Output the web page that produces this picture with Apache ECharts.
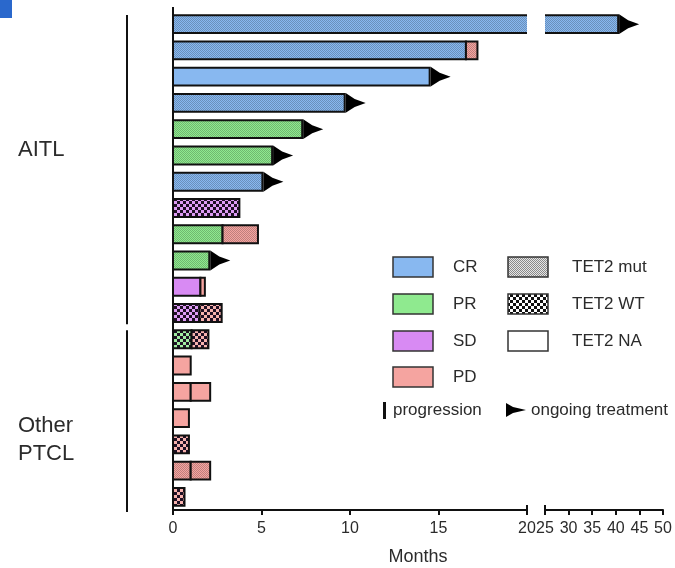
<!DOCTYPE html>
<html>
<head>
<meta charset="utf-8">
<script src="https://cdn.jsdelivr.net/npm/echarts@6/dist/echarts.min.js"></script>
<style>
  html, body { margin: 0; padding: 0; background: #fff; }
  #chart { width: 675px; height: 568px; }
</style>
</head>
<body>
<div id="chart"></div>
<script>
// One row per patient, top to bottom (swimmer plot)
const patients = ['1','2','3','4','5','6','7','8','9','10','11','12','13','14','15','16','17','18','19'];
// First response and the month it lasted until
const firstResponse = ['CR','CR','CR','CR','PR','PR','CR','SD','PR','PR','SD','SD','PR','PD','PD','PD','PD','PD','PD'];
const firstEnd      = [40.5, 16.55, 14.5, 9.7, 7.3, 5.6, 5.05, 3.75, 2.8, 2.05, 1.55, 1.5, 1.05, 1.0, 1.0, 0.9, 0.9, 1.0, 0.65];
// Later response (after progression) and its end month
const laterResponse = [null,'PD',null,null,null,null,null,null,'PD',null,'PD','PD','PD',null,'PD',null,null,'PD',null];
const laterEnd      = [null, 17.2, null, null, null, null, null, null, 4.8, null, 1.8, 2.75, 2.0, null, 2.1, null, null, 2.1, null];
// TET2 mutation status per patient
const tet2Status = ['mut','mut','NA','mut','mut','mut','mut','WT','mut','mut','NA','WT','WT','NA','NA','NA','WT','mut','WT'];
// Treatment still ongoing (arrow at the end of the bar)
const ongoing = [true,false,true,true,true,true,true,false,false,true,false,false,false,false,false,false,false,false,false];
// Disease groups: [label, first row, last row]
const groups = [['AITL', 0, 11], ['Other PTCL', 12, 18]];
// Axis ticks on both sides of the break
const leftTicks = [0, 5, 10, 15, 20];
const rightTicks = [25, 30, 35, 40, 45, 50];

const responseColor = { CR: '#88b8f0', PR: '#8fea8f', SD: '#d88af3', PD: '#f5a4a0' };
const TEXT = '#2b2b2b';
const FONT = '"Liberation Sans", Arial, sans-serif';

function mix(hex, other, t) {
  const a = parseInt(hex.slice(1), 16), b = parseInt(other.slice(1), 16);
  const ch = s => [(s >> 16) & 255, (s >> 8) & 255, s & 255];
  const A = ch(a), B = ch(b);
  return 'rgb(' + A.map((v, k) => Math.round(v + (B[k] - v) * t)).join(',') + ')';
}

function checker(c1, c2, cell) {
  const cv = document.createElement('canvas');
  cv.width = cv.height = cell * 2;
  const ctx = cv.getContext('2d');
  ctx.fillStyle = c1; ctx.fillRect(0, 0, cell * 2, cell * 2);
  ctx.fillStyle = c2; ctx.fillRect(0, 0, cell, cell); ctx.fillRect(cell, cell, cell, cell);
  return { type: 'pattern', image: cv, repeat: 'repeat' };
}

const patternCache = {};
function fillFor(color, status) {
  const key = color + status;
  if (!patternCache[key]) {
    if (status === 'mut') patternCache[key] = checker(color, mix(color, '#000000', 0.22), 1);
    else if (status === 'WT') patternCache[key] = checker(mix(color, '#ffffff', 0.15), '#1e1024', 3);
    else patternCache[key] = color;
  }
  return patternCache[key];
}

function arrowShape(xe, yc, h) {
  return [[xe, yc - h / 2 - 1], [xe + 9, yc - 4], [xe + 20, yc], [xe + 9, yc + 4], [xe, yc + h / 2 + 1]];
}

// Draws one patient row inside one side of the broken axis
function makeRowRenderer(lo, hi) {
  return function (params, api) {
    const i = params.dataIndex;
    const band = api.size([0, 1])[1];
    const h = band * 0.68;
    const yc = api.coord([lo, i])[1];
    const y0 = yc - h / 2;
    const children = [];
    const segs = [[0, firstEnd[i], firstResponse[i]]];
    if (laterResponse[i]) segs.push([firstEnd[i], laterEnd[i], laterResponse[i]]);
    segs.forEach(([a, b, r]) => {
      if (b <= lo || a >= hi) return;
      const x1 = api.coord([Math.max(a, lo), i])[0];
      const x2 = api.coord([Math.min(b, hi), i])[0];
      const cutL = a < lo, cutR = b > hi;
      const fill = fillFor(responseColor[r], tet2Status[i]);
      if (!cutL && !cutR) {
        children.push({ type: 'rect', shape: { x: x1, y: y0, width: x2 - x1, height: h },
          style: { fill: fill, stroke: '#111', lineWidth: 2 } });
      } else {
        children.push({ type: 'rect', shape: { x: x1, y: y0, width: x2 - x1, height: h }, style: { fill: fill } });
        const pts = cutR
          ? [[x2, y0], [x1, y0], [x1, y0 + h], [x2, y0 + h]]
          : [[x1, y0], [x2, y0], [x2, y0 + h], [x1, y0 + h]];
        children.push({ type: 'polyline', shape: { points: pts }, style: { stroke: '#111', lineWidth: 2, fill: null } });
      }
    });
    const end = laterEnd[i] != null ? laterEnd[i] : firstEnd[i];
    if (ongoing[i] && end > lo && end <= hi) {
      const xe = api.coord([end, i])[0] + 1;
      children.push({ type: 'polygon', shape: { points: arrowShape(xe, yc, h) }, style: { fill: '#000' } });
    }
    return { type: 'group', children: children };
  };
}

// Group brackets left of the plot and break caps on the axis
function renderFrame(params, api) {
  const cs = params.coordSys;
  const band = api.size([0, 1])[1];
  const children = [];
  const bx = cs.x - 46;
  groups.forEach(([name, r0, r1], g) => {
    const ya = api.coord([0, r0])[1] - band / 2 + 4;
    const yb = api.coord([0, r1])[1] + band / 2 + (g === 0 ? -2 : 2);
    children.push({ type: 'line', shape: { x1: bx, y1: ya, x2: bx, y2: yb }, style: { stroke: '#111', lineWidth: 2 } });
  });
  const ay = cs.y + cs.height;
  const xr = cs.x + cs.width;
  children.push({ type: 'line', shape: { x1: xr, y1: ay - 5, x2: xr, y2: ay + 5 }, style: { stroke: '#111', lineWidth: 2 } });
  children.push({ type: 'line', shape: { x1: 545, y1: ay - 5, x2: 545, y2: ay + 5 }, style: { stroke: '#111', lineWidth: 2 } });
  // y axis line runs a little above the first row
  children.push({ type: 'line', shape: { x1: cs.x, y1: cs.y - 4, x2: cs.x, y2: cs.y + 1 }, style: { stroke: '#111', lineWidth: 2 } });
  return { type: 'group', children: children };
}

const rowData = patients.map((p, i) => [firstEnd[i], i]);

const axisCommon = {
  type: 'value',
  interval: 5,
  splitLine: { show: false },
  axisLine: { show: true, lineStyle: { color: '#111', width: 2 } },
  axisTick: { show: true, length: 5, lineStyle: { color: '#111', width: 2 } },
  axisLabel: { color: TEXT, fontSize: 16, fontFamily: FONT, margin: 11 }
};

const legendRows = [
  { c: responseColor.CR, t: 'CR', y: 267 },
  { c: responseColor.PR, t: 'PR', y: 304 },
  { c: responseColor.SD, t: 'SD', y: 341 },
  { c: responseColor.PD, t: 'PD', y: 377 }
];
const legendTet = [
  { t: 'TET2 mut', fill: checker('#e6e6e6', '#8a8a8a', 1), y: 267 },
  { t: 'TET2 WT', fill: checker('#ffffff', '#111111', 3), y: 304 },
  { t: 'TET2 NA', fill: '#ffffff', y: 341 }
];

const graphics = [
  { type: 'rect', shape: { x: 0, y: 0, width: 12, height: 18 }, style: { fill: '#2a68cc' } },
  { type: 'text', left: 18, top: 139, style: { text: 'AITL', fill: TEXT, font: '22px ' + FONT } },
  { type: 'text', left: 18, top: 412, style: { text: 'Other\nPTCL', fill: TEXT, font: '22px ' + FONT, lineHeight: 28 } },
  { type: 'text', x: 418, y: 557, style: { text: 'Months', fill: TEXT, font: '18px ' + FONT, align: 'center', verticalAlign: 'middle' } }
];
legendRows.forEach(r => {
  graphics.push({ type: 'rect', shape: { x: 393, y: r.y - 10, width: 40, height: 20 }, style: { fill: r.c, stroke: '#333', lineWidth: 1.5 } });
  graphics.push({ type: 'text', x: 453, y: r.y, style: { text: r.t, fill: TEXT, font: '17px ' + FONT, verticalAlign: 'middle' } });
});
legendTet.forEach(r => {
  graphics.push({ type: 'rect', shape: { x: 508, y: r.y - 10, width: 40, height: 20 }, style: { fill: r.fill, stroke: '#333', lineWidth: 1.5 } });
  graphics.push({ type: 'text', x: 572, y: r.y, style: { text: r.t, fill: TEXT, font: '17px ' + FONT, verticalAlign: 'middle' } });
});
graphics.push({ type: 'rect', shape: { x: 383, y: 402, width: 3, height: 17 }, style: { fill: '#111' } });
graphics.push({ type: 'text', x: 393, y: 410, style: { text: 'progression', fill: TEXT, font: '17px ' + FONT, verticalAlign: 'middle' } });
graphics.push({ type: 'polygon', shape: { points: [[506, 403], [513, 407], [526, 410], [513, 413], [506, 417]] }, style: { fill: '#000' } });
graphics.push({ type: 'text', x: 531, y: 410, style: { text: 'ongoing treatment', fill: TEXT, font: '17px ' + FONT, verticalAlign: 'middle' } });

const chart = echarts.init(document.getElementById('chart'), null, { renderer: 'canvas' });
chart.setOption({
  animation: false,
  backgroundColor: '#fff',
  grid: [
    { left: 173, top: 11, width: 354, height: 499 },
    { left: 545, top: 11, width: 118, height: 499 }
  ],
  xAxis: [
    Object.assign({}, axisCommon, { gridIndex: 0, min: leftTicks[0], max: leftTicks[leftTicks.length - 1] }),
    Object.assign({}, axisCommon, { gridIndex: 1, min: rightTicks[0], max: rightTicks[rightTicks.length - 1] })
  ],
  yAxis: [
    { type: 'category', gridIndex: 0, data: patients, inverse: true,
      axisLine: { show: true, lineStyle: { color: '#111', width: 2 } },
      axisTick: { show: false }, axisLabel: { show: false } },
    { type: 'category', gridIndex: 1, data: patients, inverse: true, show: false }
  ],
  graphic: graphics,
  series: [
    { type: 'custom', xAxisIndex: 0, yAxisIndex: 0, data: rowData, encode: { x: 0, y: 1 },
      renderItem: makeRowRenderer(leftTicks[0], leftTicks[leftTicks.length - 1]), clip: false, z: 3 },
    { type: 'custom', xAxisIndex: 1, yAxisIndex: 1, data: rowData, encode: { x: 0, y: 1 },
      renderItem: makeRowRenderer(rightTicks[0], rightTicks[rightTicks.length - 1]), clip: false, z: 3 },
    { type: 'custom', xAxisIndex: 0, yAxisIndex: 0, data: [[0, 0]], encode: { x: 0, y: 1 },
      renderItem: renderFrame, clip: false, z: 2 }
  ]
});
</script>
</body>
</html>
